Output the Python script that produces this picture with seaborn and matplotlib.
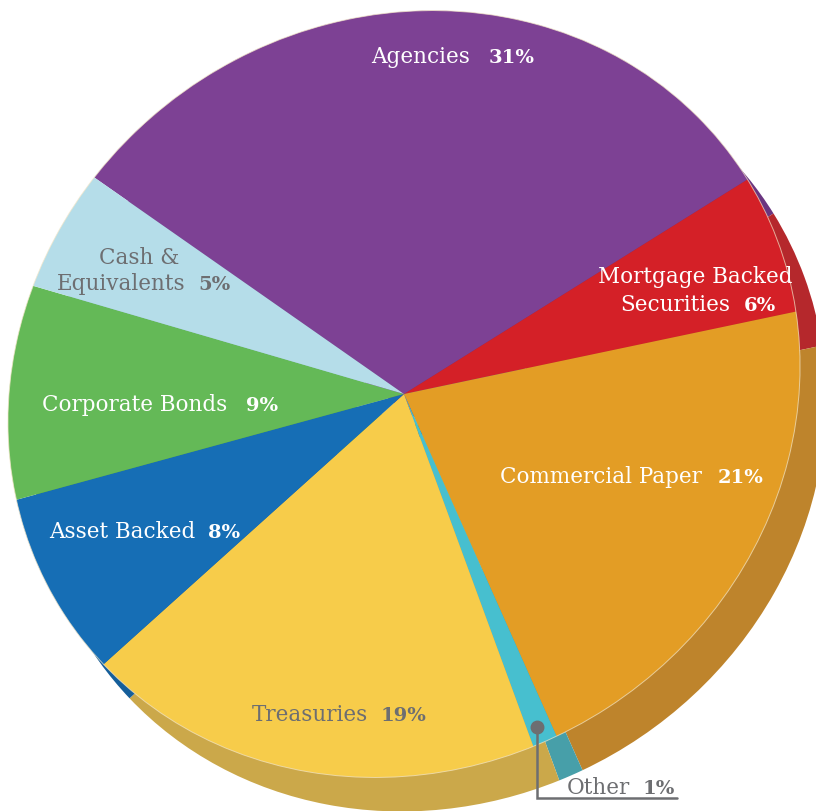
import matplotlib
matplotlib.use("Agg")
import matplotlib.pyplot as plt
import seaborn as sns
from matplotlib.patches import Circle
from matplotlib.lines import Line2D
from matplotlib.transforms import Affine2D

sns.set_theme(style="white")
plt.rcParams['font.family'] = ['DejaVu Serif', 'DejaVu Sans']

# ---- data ----
categories = ["Agencies", "Mortgage Backed Securities", "Commercial Paper", "Other",
              "Treasuries", "Asset Backed", "Corporate Bonds", "Cash & Equivalents"]
shares = [31, 6, 21, 1, 19, 8, 9, 5]
pct_labels = ["31%", "6%", "21%", "1%", "19%", "8%", "9%", "5%"]

# ---- styles ----
colors = ["#7D4194", "#D42027", "#E39D25", "#47BFCF",
          "#F7CC4A", "#166EB5", "#64B957", "#B5DDE9"]
shadow_colors = ["#6A3580", "#B5282C", "#BE842C", "#479FA9",
                 "#CBA84A", "#155E9A", "#4F9A45", "#93BCC8"]
GRAY = "#6D6E71"

W, H = 816, 811
fig = plt.figure(figsize=(W / 100, H / 100), dpi=100)
ax = fig.add_axes([0, 0, 1, 1])

# tilted disc seen in perspective: ellipse with rotated major axis
A, B = 405.0, 374.0      # semi-axes in pixels
TILT = 33.0              # rotation of major axis (deg)
CX, CY = 404.0, 394.0    # centre, pixels from top-left
SDX, SDY = 26.0, 34.0    # extrusion offset (pixels, right / down)
start = 110.5


def disc_transform(dx=0.0, dy=0.0):
    return (Affine2D().scale(A, B).rotate_deg(TILT)
            .translate(CX + dx, H - CY - dy) + ax.transData)


shadow_wedges, _ = ax.pie(shares, colors=shadow_colors, startangle=start,
                          counterclock=False, wedgeprops=dict(linewidth=0))
for w in shadow_wedges:
    w.set_transform(disc_transform(SDX, SDY))

top_wedges, _ = ax.pie(shares, colors=colors, startangle=start,
                       counterclock=False, wedgeprops=dict(linewidth=0))
for w in top_wedges:
    w.set_transform(disc_transform())

rim = Circle((0, 0), 1.0, fill=False, edgecolor="#F3E6C8", lw=0.7, alpha=0.7)
ax.add_patch(rim)
rim.set_transform(disc_transform())

ax.set_aspect('auto')
ax.set_xlim(0, W)
ax.set_ylim(0, H)
ax.axis('off')


def fx(x):
    return x / W


def fy(y):
    return 1 - y / H


FS = 15.5
PFS = 14


def label(name, pct, name_right, pct_left, base, color="white"):
    fig.text(fx(name_right), fy(base), name, ha='right', va='baseline',
             fontsize=FS, color=color)
    fig.text(fx(pct_left), fy(base), pct, ha='left', va='baseline',
             fontsize=PFS, color=color, fontweight='bold')


label(categories[0], pct_labels[0], 470, 489, 63)
fig.text(fx(793), fy(283), "Mortgage Backed", ha='right', va='baseline',
         fontsize=FS, color='white')
label("Securities", pct_labels[1], 730, 744, 311)
label(categories[2], pct_labels[2], 702, 718, 483)
label(categories[4], pct_labels[4], 368, 381, 721, color=GRAY)
label(categories[5], pct_labels[5], 195, 208, 538)
label(categories[6], pct_labels[6], 227, 246, 411)
fig.text(fx(139), fy(264), "Cash &", ha='center', va='baseline',
         fontsize=FS, color=GRAY)
label("Equivalents", pct_labels[7], 185, 198, 290, color=GRAY)
label(categories[3], pct_labels[3], 630, 643, 794, color=GRAY)

# callout for "Other"
fig.add_artist(Line2D([fx(537), fx(537), fx(677)], [fy(727), fy(798), fy(798)],
                      transform=fig.transFigure, color=GRAY, lw=1.8,
                      solid_joinstyle='miter'))
fig.add_artist(Line2D([fx(537)], [fy(727)], transform=fig.transFigure,
                      marker='o', markersize=9, color=GRAY, lw=0))

fig.savefig("out.png", dpi=100)
